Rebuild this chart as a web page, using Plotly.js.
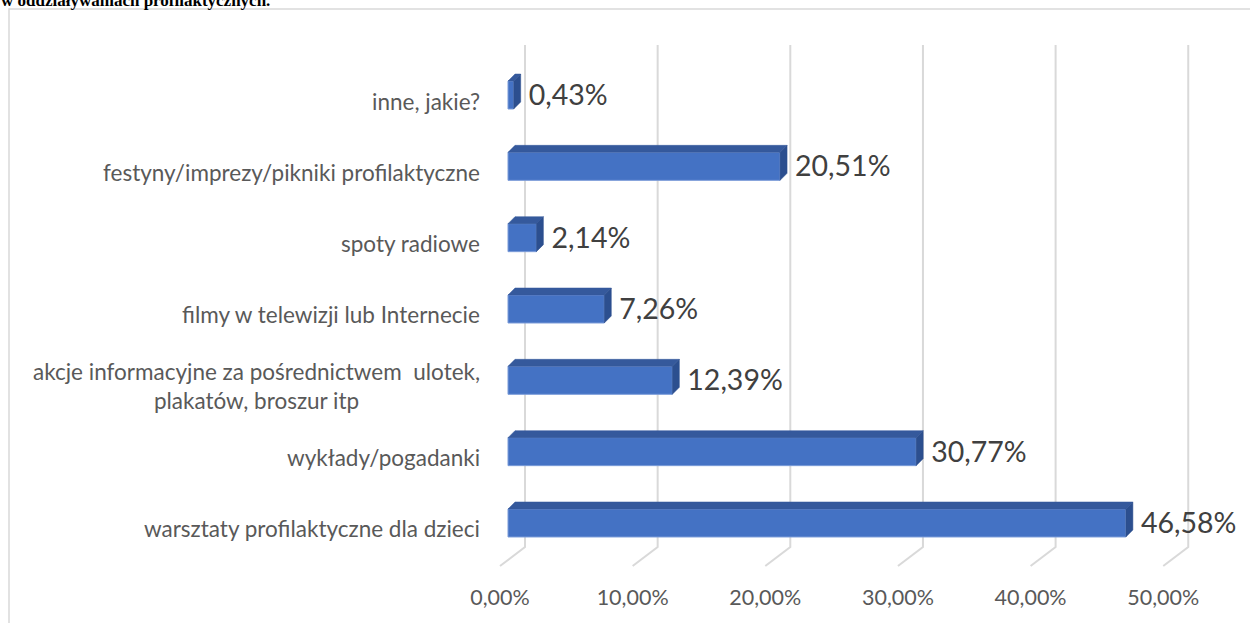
<!DOCTYPE html>
<html>
<head>
<meta charset="utf-8">
<script src="https://cdn.plot.ly/plotly-3.0.1.min.js"></script>
<style>html,body{margin:0;padding:0;background:#fff;}#chart{width:1250px;height:623px;}</style>
</head>
<body>
<div id="chart"></div>
<script>
// ---- data ----
const categories = [
  'warsztaty profilaktyczne dla dzieci',
  'wykłady/pogadanki',
  'akcje informacyjne za pośrednictwem  ulotek,<br>plakatów, broszur itp',
  'filmy w telewizji lub Internecie',
  'spoty radiowe',
  'festyny/imprezy/pikniki profilaktyczne',
  'inne, jakie?'
];
const values = [46.58, 30.77, 12.39, 7.26, 2.14, 20.51, 0.43];
const xTickVals = [0, 10, 20, 30, 40, 50];
const xTickLabels = ['0,00%', '10,00%', '20,00%', '30,00%', '40,00%', '50,00%'];
const titleText = 'w oddziaływaniach profilaktycznych.';

// ---- geometry helpers (pixel layout) ----
const W = 1250, H = 623;
const L = 490, R = 1240, T = 44, B = 567;
const pxPerUnit = 13.265;       // px per 1 %
const zeroPx = 508;             // px of 0 % on bar front face
const catStep = 71.33;          // px between categories
const topCatPx = 95;            // px centre of last category
const nCat = categories.length;
const xVal = px => (px - zeroPx) / pxPerUnit;
const yIdx = py => (nCat - 1) + (topCatPx - py) / catStep;
const paperX = px => (px - L) / (R - L);
const paperY = py => (B - py) / (B - T);

const idx = categories.map((c, i) => i);
const half = 14 / catStep;      // half bar thickness
const dX = 7 / pxPerUnit;       // 3D depth offset x
const dY = 7 / catStep;         // 3D depth offset y

// gridlines (back wall + floor) as shapes below the traces
const gridShapes = xTickVals.map(v => {
  const bx = v + 17 / pxPerUnit, fx = v - 8 / pxPerUnit;
  return {type: 'path', xref: 'x', yref: 'y', layer: 'below',
    path: `M${bx},${yIdx(45)} L${bx},${yIdx(547)} L${fx},${yIdx(566)}`,
    line: {color: '#D9D9D9', width: 2}};
});

// bar top and side faces
const topX = [], topY = [], sideX = [], sideY = [];
values.forEach((v, i) => {
  topX.push(0, v, v + dX, dX, 0, null);
  topY.push(i + half, i + half, i + half + dY, i + half + dY, i + half, null);
  sideX.push(v, v + dX, v + dX, v, v, null);
  sideY.push(i - half, i - half + dY, i + half + dY, i + half, i - half, null);
});

const fmt = v => v.toFixed(2).replace('.', ',') + '%';
const font = 'Lato, "Liberation Sans", sans-serif';

const traces = [
  {type: 'bar', orientation: 'h', x: values, y: idx, width: 2 * half,
   marker: {color: '#4472C4', line: {color: '#7A9BD8', width: 1}},
   hoverinfo: 'skip', showlegend: false},
  {type: 'scatter', mode: 'lines', x: topX, y: topY, fill: 'toself', fillcolor: '#35599C',
   line: {color: '#35599C', width: 0.5}, hoverinfo: 'skip', showlegend: false},
  {type: 'scatter', mode: 'lines', x: sideX, y: sideY, fill: 'toself', fillcolor: '#2C4F8F',
   line: {color: '#2C4F8F', width: 0.5}, hoverinfo: 'skip', showlegend: false},
  {type: 'scatter', mode: 'text', x: values.map(v => v + dX + 8 / pxPerUnit),
   y: idx.map(i => i - 3 / catStep), text: values.map(fmt), textposition: 'middle right',
   textfont: {family: font, size: 28.5, color: '#404040'},
   cliponaxis: false, hoverinfo: 'skip', showlegend: false},
  {type: 'scatter', mode: 'markers', x: [0], y: [0], xaxis: 'x2', yaxis: 'y',
   marker: {opacity: 0}, hoverinfo: 'skip', showlegend: false}
];

const annotations = categories.map((c, i) => ({
  xref: 'paper', yref: 'y', x: paperX(482), y: i, xanchor: 'right', yanchor: 'middle',
  yshift: -6, align: 'center', showarrow: false, text: c,
  font: {family: font, size: 22.5, color: '#595959'}
}));
annotations.push({
  xref: 'paper', yref: 'paper', x: paperX(0), y: paperY(11), xanchor: 'left', yanchor: 'bottom',
  showarrow: false, borderpad: 0, text: '<b>' + titleText + '</b>',
  font: {family: '"Liberation Serif", "Times New Roman", serif', size: 17, color: '#000'}
});

const layout = {
  width: W, height: H,
  margin: {l: L, r: W - R, t: T, b: H - B, pad: 0},
  paper_bgcolor: '#fff', plot_bgcolor: 'rgba(0,0,0,0)',
  showlegend: false,
  xaxis: {range: [xVal(L), xVal(R)], showgrid: false, zeroline: false, showticklabels: false,
          showline: false, ticks: '', fixedrange: true},
  xaxis2: {overlaying: 'x', anchor: 'y', side: 'bottom',
           range: [xVal(L) + 8 / pxPerUnit, xVal(R) + 8 / pxPerUnit],
           tickmode: 'array', tickvals: xTickVals, ticktext: xTickLabels,
           showgrid: false, zeroline: false, showline: false, ticks: '',
           ticklabelstandoff: 15,
           tickfont: {family: font, size: 21.5, color: '#595959'}},
  yaxis: {range: [yIdx(B), yIdx(T)], showgrid: false, zeroline: false, showticklabels: false,
          showline: false, ticks: '', fixedrange: true},
  shapes: [{type: 'rect', xref: 'paper', yref: 'paper', x0: paperX(9), x1: paperX(1270),
            y0: paperY(650), y1: paperY(9), line: {color: '#D9D9D9', width: 1.5}, layer: 'below'}]
          .concat(gridShapes),
  annotations: annotations
};

Plotly.newPlot('chart', traces, layout, {displayModeBar: false, staticPlot: true});
</script>
</body>
</html>
